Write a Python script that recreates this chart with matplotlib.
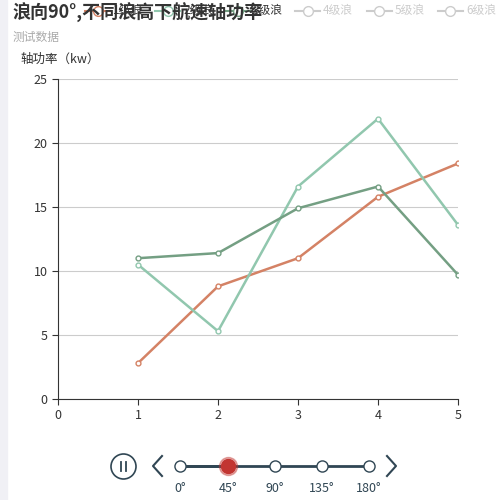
import matplotlib
matplotlib.use("Agg")
import matplotlib.pyplot as plt
from matplotlib.patches import Rectangle, Circle

plt.rcParams['font.family'] = ['Noto Sans CJK SC', 'DejaVu Sans']

x = [1, 2, 3, 4, 5]
s_orange = [2.8, 8.8, 11.0, 15.8, 18.4]
s_dark = [11.0, 11.4, 14.9, 16.6, 9.7]
s_light = [10.5, 5.3, 16.6, 21.9, 13.6]
legend_on = ["1级浪", "2级浪", "3级浪"]
legend_off = ["4级浪", "5级浪", "6级浪"]
timeline = ["0°", "45°", "90°", "135°", "180°"]

c_or, c_lg, c_dg = "#d48265", "#91c7ae", "#749f83"

fig = plt.figure(figsize=(5, 5), dpi=100)
fig.patches.append(Rectangle((0, 0), 0.014, 1, transform=fig.transFigure, color="#f0f0f5", zorder=-1))
ax = fig.add_axes([0.116, 0.202, 0.8, 0.64])
for y, c in [(s_orange, c_or), (s_light, c_lg), (s_dark, c_dg)]:
    ax.plot(x, y, color=c, lw=1.8, marker='o', ms=3.5, mfc='white', mec=c, mew=1)
ax.set_xlim(0, 5); ax.set_ylim(0, 25)
ax.set_yticks(range(0, 26, 5)); ax.set_xticks(range(6))
ax.grid(axis='y', color='#cccccc', lw=0.8)
for s in ['top', 'right']: ax.spines[s].set_visible(False)
ax.spines['left'].set_color('#333'); ax.spines['bottom'].set_color('#333')
ax.tick_params(colors='#333', labelsize=9, length=4)
ax.set_axisbelow(True)
fig.text(0.04, 0.875, "轴功率（kw）", fontsize=9, color='#333')

# legend
def leg(xp, label, col, tcol):
    yy = 0.978
    fig.add_artist(plt.Line2D([xp, xp + 0.05], [yy, yy], color=col, lw=1.5, transform=fig.transFigure))
    fig.add_artist(plt.Line2D([xp + 0.025], [yy], marker='o', ms=7, mfc='white', mec=col, transform=fig.transFigure))
    fig.text(xp + 0.056, yy, label, fontsize=8.5, color=tcol, va='center')
for i, (l, c) in enumerate(zip(legend_on, [c_or, c_lg, c_dg])):
    leg(0.17 + i * 0.14, l, c, '#333')
for i, l in enumerate(legend_off):
    leg(0.59 + i * 0.143, l, '#cccccc', '#cccccc')
fig.text(0.025, 0.975, "浪向90°,不同浪高下航速轴功率", fontsize=13, fontweight='bold', color='#333', va='center')
fig.text(0.025, 0.925, "测试数据", fontsize=8.5, color='#aaa', va='center')

# timeline
tl = fig.add_axes([0, 0, 1, 1], facecolor='none')
tl.set_xlim(0, 500); tl.set_ylim(500, 0); tl.axis('off')
tl.plot([180, 369], [466, 466], color='#304654', lw=2)
tl.plot([180, 228], [466, 466], color='#304654', lw=2)
for i, (px, lab) in enumerate(zip([180, 228, 275, 322, 369], timeline)):
    if i == 1:
        tl.plot(px, 466, 'o', ms=13, color='#c23531', alpha=0.4)
        tl.plot(px, 466, 'o', ms=10, color='#c23531')
    else:
        tl.plot(px, 466, 'o', ms=8, mfc='white', mec='#304654', mew=1)
    tl.text(px, 488, lab, ha='center', va='center', fontsize=9, color='#304654')
tl.plot(123, 466, 'o', ms=18, mfc='white', mec='#304654', mew=1.2)
tl.plot([120.5, 120.5], [461.5, 470.5], color='#304654', lw=1.3)
tl.plot([125.5, 125.5], [461.5, 470.5], color='#304654', lw=1.3)
tl.plot([162, 153, 162], [456, 466, 476], color='#304654', lw=1.5)
tl.plot([387, 396, 387], [456, 466, 476], color='#304654', lw=1.5)

fig.savefig("out.png", dpi=100)
